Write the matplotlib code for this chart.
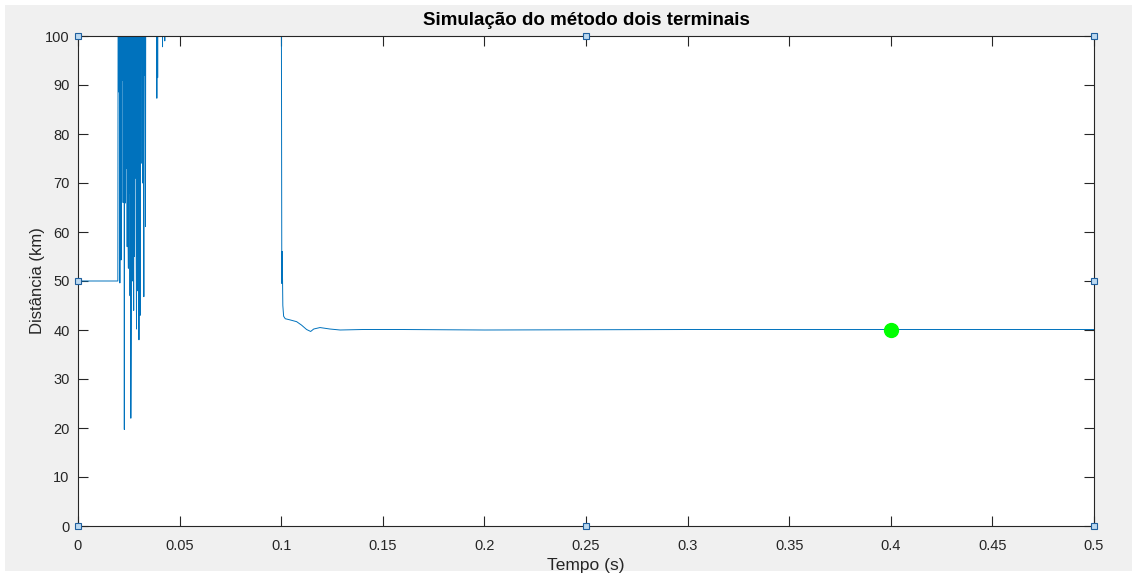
import matplotlib
matplotlib.use("Agg")
import matplotlib.pyplot as plt
import numpy as np
from matplotlib.patches import Rectangle
from matplotlib.ticker import FormatStrFormatter

# --- data (km vs s); values above 100 are off-scale ---
pre_t = [0.0, 0.0196]
pre_d = [50.0, 50.0]

# fault burst, sampled every 0.2 ms starting at 0.0196 s
burst_t0 = 0.0196
burst_dt = 0.0002
burst_d = [
    50, 130, 88.6, 130, 130, 49.6, 130, 130, 54.3, 130,
    130, 91, 130, 66, 130, 130, 19.7, 130, 65.9, 79,
    130, 73, 130, 57, 130, 62.1, 52.6, 130, 68, 130,
    47, 130, 22, 41.4, 130, 75, 50, 130, 64, 44,
    130, 55, 130, 71, 130, 60, 40.2, 130, 48, 130,
    82, 130, 38, 130, 66, 43, 130, 74, 130, 97.5,
    130, 70, 130, 85, 46.8, 130, 92, 130, 61.1, 130,
    130,
]

late_t = [0.0386, 0.0388, 0.0390, 0.0392, 0.0394, 0.0396, 0.0414, 0.0416,
          0.0418, 0.0425, 0.0427, 0.0429, 0.0600, 0.0998, 0.1000]
late_d = [130, 87.3, 130, 91.5, 130, 130, 130, 97.8,
          130, 130, 99, 130, 130, 130, 130]

settle_t = [0.1003, 0.1005, 0.1008, 0.1012, 0.1020, 0.1040, 0.1076, 0.1100,
            0.1125, 0.1145, 0.1160, 0.1191, 0.1240, 0.1290, 0.1400, 0.1600,
            0.2000, 0.3000, 0.4000, 0.5000]
settle_d = [49.5, 56, 45, 42.8, 42.3, 42.1, 41.7, 41.0,
            40.1, 39.7, 40.2, 40.5, 40.2, 40.0, 40.1, 40.1,
            40.0, 40.1, 40.1, 40.1]

marker_t = 0.4
marker_d = 40.1

burst_t = burst_t0 + burst_dt * np.arange(len(burst_d))
t = np.concatenate([pre_t, burst_t, late_t, settle_t])
d = np.concatenate([pre_d, burst_d, late_d, settle_d])

plt.rcParams["font.family"] = ["Liberation Sans", "DejaVu Sans"]
txt = "#262626"

fig = plt.figure(figsize=(11.32, 5.76), dpi=100, facecolor="white")
fig.patches.append(Rectangle((5 / 1132, 5 / 576), 1, 566 / 576,
                             transform=fig.transFigure, facecolor="#f0f0f0",
                             edgecolor="none", zorder=-10))

ax = fig.add_axes([78 / 1132, 50 / 576, 1016 / 1132, 490 / 576])
ax.set_facecolor("white")
ax.plot(t, d, color="#0072BD", lw=0.7)
ax.plot(marker_t, marker_d, "o", color="#00ff00", markersize=10)

ax.set_xlim(0, 0.5)
ax.set_ylim(0, 100)
ax.set_xticks(np.arange(0, 0.501, 0.05))
ax.set_yticks(np.arange(0, 101, 10))
ax.xaxis.set_major_formatter(FormatStrFormatter("%g"))
ax.tick_params(direction="in", length=7, width=0.8, top=True, right=True,
               labelsize=10.5, colors=txt)
ax.tick_params(axis="x", pad=9)
ax.tick_params(axis="y", pad=6)
for sp in ax.spines.values():
    sp.set_color(txt)
    sp.set_linewidth(0.8)

ax.set_title("Simulação do método dois terminais", fontsize=13.5,
             fontweight="bold", color="black", pad=8)
ax.set_xlabel("Tempo (s)", fontsize=12.5, color=txt, labelpad=4)
ax.set_ylabel("Distância (km)", fontsize=12, color=txt, labelpad=0)

# edit handles on the axes box
hx = [0, 0, 0, 0.25, 0.5, 0.5, 0.5, 0.25]
hy = [0, 50, 100, 100, 100, 50, 0, 0]
ax.plot(hx, hy, "s", ms=5, mfc="#bcd9f0", mec="#1f5f9e", mew=0.8,
        clip_on=False, zorder=5)

fig.savefig("out.png", dpi=100, facecolor=fig.get_facecolor())
